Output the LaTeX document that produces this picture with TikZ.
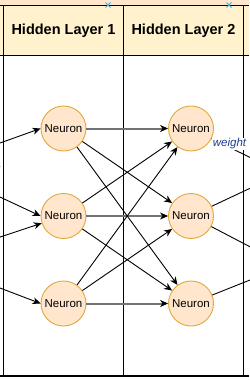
\documentclass[tikz,border=0pt]{standalone}
\usepackage{fontspec}
\setmainfont{Liberation Sans}
\usepackage{tikz}
\usetikzlibrary{arrows.meta,shapes.misc}
\definecolor{hdrfill}{HTML}{FFF2CC}
\definecolor{topfill}{HTML}{FFE6CC}
\definecolor{nfill}{HTML}{FFE6CC}
\definecolor{ndraw}{HTML}{E0A93A}
\definecolor{wblue}{HTML}{1F3F8F}
\definecolor{lblue}{HTML}{1287CC}
\definecolor{hblue}{HTML}{3DB0E8}

\begin{document}
\begin{tikzpicture}[x=1pt,y=-1pt,>={Stealth[length=8pt,width=7pt,inset=2.5pt]}]
 \tikzstyle{neuron}=[draw=ndraw,fill=nfill,circle,line width=0.9pt,minimum size=45pt,inner sep=0pt,font=\fontsize{11.5}{13}\selectfont]
 \tikzstyle{conn}=[->,line width=0.9pt]
 \tikzstyle{same}=[-{Stealth[length=8pt,width=7pt,inset=2.5pt,line width=0.6pt,black]},line width=2pt,draw=black!55]
 \tikzstyle{layer}=[font=\bfseries\fontsize{14.5}{16}\selectfont]
 \tikzstyle{wlabel}=[font=\itshape\fontsize{11.5}{13}\selectfont,inner sep=1pt]
 \useasboundingbox (0,0) rectangle (249,380);
 % lanes
 \fill[topfill] (0,0) rectangle (249,5);
 \fill[hdrfill] (0,5) rectangle (249,55);
 \draw[line width=1pt] (0,5) -- (249,5);
 \draw[line width=1pt] (0,55) -- (249,55);
 \draw[line width=1pt] (3.5,5) -- (3.5,376);
 \draw[line width=1pt] (123.5,5) -- (123.5,376);
 \draw[line width=1pt] (243.5,5) -- (243.5,376);
 \draw[line width=2pt] (0,375.5) -- (249,375.5);
 \node[layer] at (63.5,31) (T1) {Hidden Layer 1};
 \node[layer] at (183.5,31) (T2) {Hidden Layer 2};
 \node[draw=hblue,cross out,minimum size=4pt,inner sep=0pt,line width=1pt] at (108,5) (S1) {};
 \node[draw=hblue,cross out,minimum size=4pt,inner sep=0pt,line width=1pt] at (229,5) (S2) {};

 \node[neuron] at (63.5,128.5) (N11) {Neuron};
 \node[neuron] at (63.5,216) (N12) {Neuron};
 \node[neuron] at (63.5,303.5) (N13) {Neuron};
 \node[neuron] at (191,128.5) (N21) {Neuron};
 \node[neuron] at (191,216) (N22) {Neuron};
 \node[neuron] at (191,303.5) (N23) {Neuron};

 % inputs and outputs leave the picture
 \coordinate (I1) at (-5,144.8);
 \coordinate (I2) at (-5,194.7);
 \coordinate (I3) at (-5,238.7);
 \coordinate (I4) at (-5,286.1);
 \coordinate (O1) at (260,162.3);
 \coordinate (O2) at (260,183.6);
 \coordinate (O3) at (260,252);
 \coordinate (O4) at (260,276);

 \draw[conn] (I1) -- (N11.west);
 \draw[conn] (I2) -- (N12.west);
 \draw[conn] (I3) -- (N12);
 \draw[conn] (I4) -- (N13.west);
 \node[wlabel,text=lblue,anchor=east] at (1.6,170) (W1) {weight};

 \draw[same] (N11) -- (N21);
 \draw[same] (N12) -- (N22);
 \draw[same] (N13) -- (N23);
 \draw[conn] (N11) -- (N22);
 \draw[conn] (N11) -- (N23);
 \draw[conn] (N12) -- (N21);
 \draw[conn] (N12) -- (N23);
 \draw[conn] (N13) -- (N21);
 \draw[conn] (N13) -- (N22);

 \draw[line width=0.9pt] (N21) -- (O1);
 \draw[line width=0.9pt] (N22) -- (O2);
 \draw[line width=0.9pt] (N22) -- (O3);
 \draw[line width=0.9pt] (N23) -- (O4);
 \node[wlabel,text=wblue,fill=white] at (229.5,144) (W2) {weight};
\end{tikzpicture}
\end{document}
